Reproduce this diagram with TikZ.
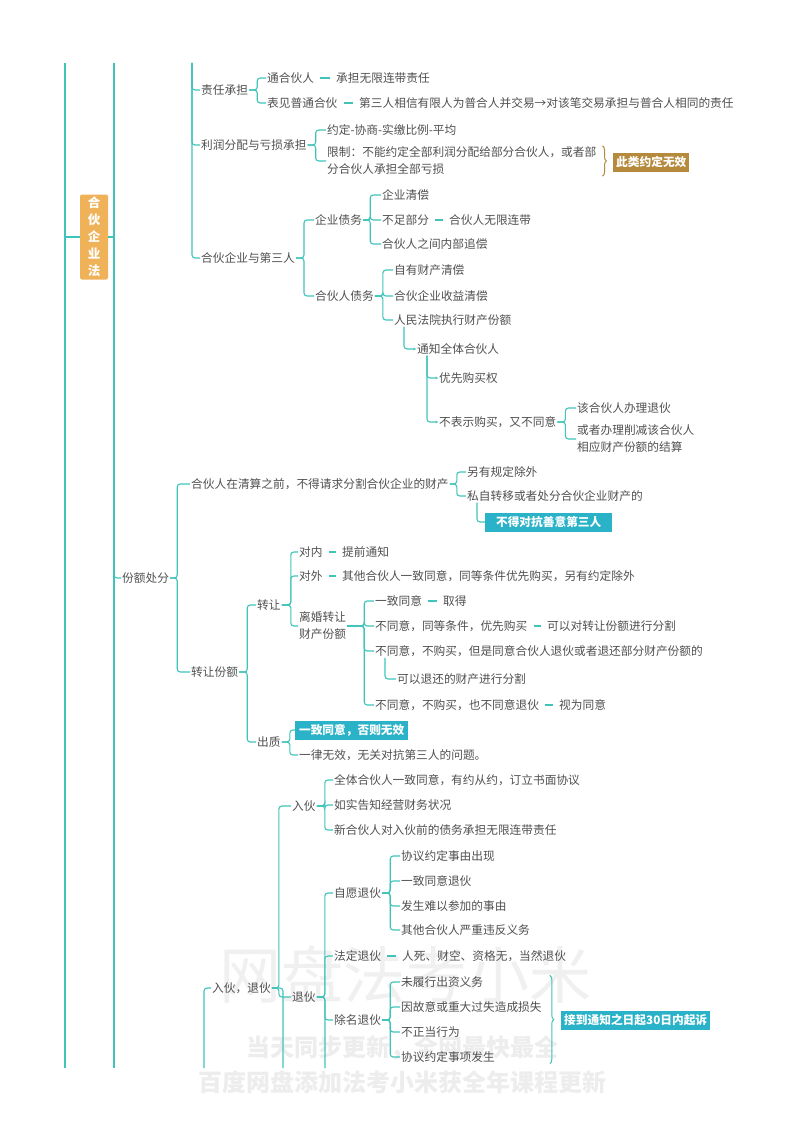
\documentclass[tikz,border=0pt]{standalone}
\usepackage{fontspec}
\setmainfont{Noto Sans CJK SC}
\usepackage{xcolor}
\definecolor{mapTeal}{RGB}{64, 196, 186}
\definecolor{mapText}{RGB}{80, 80, 80}
\definecolor{mapOrange}{RGB}{240, 178, 88}
\definecolor{mapGold}{RGB}{181, 138, 60}
\definecolor{mapBlue}{RGB}{42, 178, 200}
\usetikzlibrary{
    arrows.meta,
    decorations.pathreplacing,
    calc
}

\begin{document}
\begin{tikzpicture}[
    x=1pt, y=-1pt,
    topic/.style={
        anchor=west, inner sep=1pt, text=mapText,
        font=\fontsize{11.7}{17}\selectfont, align=left
    },
    branch/.style={
        draw=mapTeal, line width=1.1pt, rounded corners=3pt
    },
    trunk/.style={
        draw=mapTeal, line width=2.2pt
    },
    pairLine/.style={
        draw=mapTeal, line width=1.3pt, shorten <=5pt, shorten >=5pt
    },
    hookLine/.style={
        branch, -{Stealth[length=2.5pt, width=2.5pt]}
    },
    rootBox/.style={
        fill=mapOrange, text=white, rounded corners=2pt,
        font=\fontsize{12.5}{17}\selectfont\bfseries,
        align=center, inner sep=2pt,
        minimum width=28pt, minimum height=85pt
    },
    noteBox/.style={
        anchor=west, text=white, inner sep=3pt,
        font=\fontsize{11.7}{14}\selectfont\bfseries,
        minimum height=19pt
    },
    braceLine/.style={
        decorate, decoration={brace, amplitude=4pt}, line width=1pt
    },
    waterMark/.style={
        text=black!6, font=\fontsize{#1}{#1}\selectfont
    },
    waterLine/.style={
        text=black!7, font=\fontsize{#1}{#1}\selectfont\bfseries
    }
]

    % Page
    \fill[white] (0,0) rectangle (800,1132);
    \useasboundingbox (0,0) rectangle (800,1132);

    % Watermark
    \node[waterMark=62] (wmBig) at (405,975) {网盘法考小米};
    \node[waterLine=24] (wmLineA) at (402,1048) {当天同步更新，全网最快最全};
    \node[waterLine=24] (wmLineB) at (402,1082) {百度网盘添加法考小米获全年课程更新};

    % Root and running lines
    \coordinate (trunkTop) at (65,63);
    \coordinate (trunkEnd) at (65,1068);
    \coordinate (levelTop) at (114,63);
    \coordinate (levelEnd) at (114,1068);
    \coordinate (dutyTop) at (192,63);
    \node[rootBox] (root) at (94,237) {合\\伙\\企\\业\\法};
    \draw[trunk] (trunkTop) -- (trunkEnd);
    \draw[trunk] (trunkTop |- root.west) -- (root.west);
    \draw[branch] (levelTop) -- (levelEnd);
    \draw[branch] (root.east) -- (levelTop |- root.east);

    % Liability
    \node[topic] (resp) at (200,90) {责任承担};
    \node[topic] (genP) at (266,78) {通合伙人};
    \node[topic] (genPr) at (335,78) {承担无限连带责任};
    \node[topic] (appP) at (266,103) {表见普通合伙};
    \node[topic] (appPr) at (358,103) {第三人相信有限人为普合人并交易→对该笔交易承担与普合人相同的责任};
    \draw[branch] (dutyTop) |- (resp.west);
    \foreach \c in {genP, appP}
        \draw[branch] (resp.east) -- ++(8,0) |- (\c.west);
    \draw[pairLine] (genP) -- (genPr);
    \draw[pairLine] (appP) -- (appPr);

    % Profit and loss
    \node[topic] (profit) at (200,145) {利润分配与亏损承担};
    \node[topic] (agree) at (326,130) {约定-协商-实缴比例-平均};
    \node[topic] (limit) at (326,161) {限制：不能约定全部利润分配给部分合伙人，或者部\\分合伙人承担全部亏损};
    \draw[branch] (dutyTop) |- (profit.west);
    \foreach \c in {agree, limit}
        \draw[branch] (profit.east) -- ++(8,0) |- (\c.west);
    \draw[braceLine, draw=mapGold] ([xshift=5pt]limit.north east) -- ([xshift=5pt]limit.south east);
    \node[noteBox, fill=mapGold, minimum width=76pt] (invalid) at (613,162) {此类约定无效};

    % Third parties
    \node[topic] (third) at (200,258) {合伙企业与第三人};
    \node[topic] (entDebt) at (314,220) {企业债务};
    \node[topic] (entPay) at (381,195) {企业清偿};
    \node[topic] (shortPart) at (381,220) {不足部分};
    \node[topic] (shortPartR) at (448,220) {合伙人无限连带};
    \node[topic] (innerRec) at (381,244) {合伙人之间内部追偿};
    \node[topic] (ptnDebt) at (314,296) {合伙人债务};
    \node[topic] (ownPay) at (393,270) {自有财产清偿};
    \node[topic] (incomePay) at (393,296) {合伙企业收益清偿};
    \node[topic] (court) at (393,320) {人民法院执行财产份额};
    \node[topic] (notify) at (416,349) {通知全体合伙人};
    \node[topic] (preBuy) at (438,378) {优先购买权};
    \node[topic] (noBuy) at (438,422) {不表示购买，又不同意};
    \node[topic] (quit) at (576,408) {该合伙人办理退伙};
    \node[topic] (reduce) at (576,439) {或者办理削减该合伙人\\相应财产份额的结算};
    \draw[branch] (dutyTop) |- (third.west);
    \foreach \c in {entDebt, ptnDebt}
        \draw[branch] (third.east) -- ++(8,0) |- (\c.west);
    \foreach \c in {entPay, shortPart, innerRec}
        \draw[branch] (entDebt.east) -- ++(7,0) |- (\c.west);
    \draw[pairLine] (shortPart) -- (shortPartR);
    \foreach \c in {ownPay, incomePay, court}
        \draw[branch] (ptnDebt.east) -- ++(8,0) |- (\c.west);
    \draw[hookLine] ([xshift=11pt]court.south west) |- (notify.west);
    \foreach \c in {preBuy, noBuy}
        \draw[hookLine] ([xshift=11pt]notify.south west) |- (\c.west);
    \foreach \c in {quit, reduce}
        \draw[branch] (noBuy.east) -- ++(8,0) |- (\c.west);

    % Share disposal
    \node[topic] (share) at (121,578) {份额处分};
    \node[topic] (beforeLiq) at (190,484) {合伙人在清算之前，不得请求分割合伙企业的财产};
    \node[topic] (otherRule) at (466,472) {另有规定除外};
    \node[topic] (privTrans) at (466,496) {私自转移或者处分合伙企业财产的};
    \node[noteBox, fill=mapBlue, minimum width=127pt] (noAgainst) at (485,522) {不得对抗善意第三人};
    \node[topic] (transShare) at (190,672) {转让份额};
    \draw[branch] (levelTop) |- (share.west);
    \foreach \c in {beforeLiq, transShare}
        \draw[branch] (share.east) -- ++(7,0) |- (\c.west);
    \foreach \c in {otherRule, privTrans}
        \draw[branch] (beforeLiq.east) -- ++(7,0) |- (\c.west);
    \draw[branch] ([xshift=11pt]privTrans.south west) |- (noAgainst.west);

    % Transfer of shares
    \node[topic] (transfer) at (256,605) {转让};
    \node[topic] (inner) at (298,552) {对内};
    \node[topic] (innerR) at (341,552) {提前通知};
    \node[topic] (outer) at (298,576) {对外};
    \node[topic] (outerR) at (341,576) {其他合伙人一致同意，同等条件优先购买，另有约定除外};
    \node[topic] (divorce) at (298,626) {离婚转让\\财产份额};
    \node[topic] (allAgree) at (374,601) {一致同意};
    \node[topic] (allAgreeR) at (442,601) {取得};
    \node[topic] (disA) at (374,626) {不同意，同等条件，优先购买};
    \node[topic] (disAR) at (546,626) {可以对转让份额进行分割};
    \node[topic] (disB) at (374,651) {不同意，不购买，但是同意合伙人退伙或者退还部分财产份额的};
    \node[topic] (disBR) at (396,679) {可以退还的财产进行分割};
    \node[topic] (disC) at (374,705) {不同意，不购买，也不同意退伙};
    \node[topic] (disCR) at (558,705) {视为同意};
    \node[topic] (pledge) at (256,742) {出质};
    \node[noteBox, fill=mapBlue, minimum width=113pt] (pledgeA) at (295,730) {一致同意，否则无效};
    \node[topic] (pledgeB) at (298,755) {一律无效，无关对抗第三人的问题。};
    \foreach \c in {transfer, pledge}
        \draw[branch] (transShare.east) -- ++(8,0) |- (\c.west);
    \foreach \c in {inner, outer, divorce}
        \draw[branch] (transfer.east) -- ++(9,0) |- (\c.west);
    \draw[pairLine] (inner) -- (innerR);
    \draw[pairLine] (outer) -- (outerR);
    \foreach \c in {allAgree, disA, disB, disC}
        \draw[branch] (divorce.east) -- ++(17,0) |- (\c.west);
    \draw[pairLine] (allAgree) -- (allAgreeR);
    \draw[pairLine] (disA) -- (disAR);
    \draw[pairLine] (disC) -- (disCR);
    \draw[branch] ([xshift=11pt]disB.south west) |- (disBR.west);
    \foreach \c in {pledgeA, pledgeB}
        \draw[branch] (pledge.east) -- ++(8,0) |- (\c.west);

    % Joining and leaving
    \coordinate (inOutEnd) at (204,1068);
    \coordinate (inOutDown) at (283,1068);
    \coordinate (leaveDown) at (325,1068);
    \node[topic] (inOut) at (211,988) {入伙，退伙};
    \node[topic] (join) at (291,806) {入伙};
    \node[topic] (joinA) at (333,780) {全体合伙人一致同意，有约从约，订立书面协议};
    \node[topic] (joinB) at (333,805) {如实告知经营财务状况};
    \node[topic] (joinC) at (333,830) {新合伙人对入伙前的债务承担无限连带责任};
    \node[topic] (leave) at (291,997) {退伙};
    \node[topic] (volLeave) at (333,893) {自愿退伙};
    \node[topic] (volA) at (400,856) {协议约定事由出现};
    \node[topic] (volB) at (400,881) {一致同意退伙};
    \node[topic] (volC) at (400,906) {发生难以参加的事由};
    \node[topic] (volD) at (400,930) {其他合伙人严重违反义务};
    \node[topic] (lawLeave) at (333,956) {法定退伙};
    \node[topic] (lawLeaveR) at (401,956) {人死、财空、资格无，当然退伙};
    \node[topic] (expel) at (333,1020) {除名退伙};
    \node[topic] (expA) at (400,982) {未履行出资义务};
    \node[topic] (expB) at (400,1007) {因故意或重大过失造成损失};
    \node[topic] (expC) at (400,1032) {不正当行为};
    \node[topic] (expD) at (400,1057) {协议约定事项发生};
    \draw[branch] (inOut.west) -| (inOutEnd);
    \draw[branch] (inOut.east) -| (inOutDown);
    \foreach \c in {join, leave}
        \draw[branch] (inOut.east) -- ++(7,0) |- (\c.west);
    \foreach \c in {joinA, joinB, joinC}
        \draw[branch] (join.east) -- ++(8,0) |- (\c.west);
    \draw[branch] (leave.east) -| (leaveDown);
    \foreach \c in {volLeave, lawLeave, expel}
        \draw[branch] (leave.east) -- ++(8,0) |- (\c.west);
    \foreach \c in {volA, volB, volC, volD}
        \draw[branch] (volLeave.east) -- ++(8,0) |- (\c.west);
    \draw[pairLine] (lawLeave) -- (lawLeaveR);
    \foreach \c in {expA, expB, expC, expD}
        \draw[branch] (expel.east) -- ++(8,0) |- (\c.west);
    \draw[braceLine, draw=mapTeal] ($(expB.east |- expA.north)+(7,0)$) -- ($(expB.east |- expD.south)+(7,0)$);
    \node[noteBox, fill=mapBlue, minimum width=149pt] (sue) at (561,1020) {接到通知之日起30日内起诉};

\end{tikzpicture}
\end{document}
